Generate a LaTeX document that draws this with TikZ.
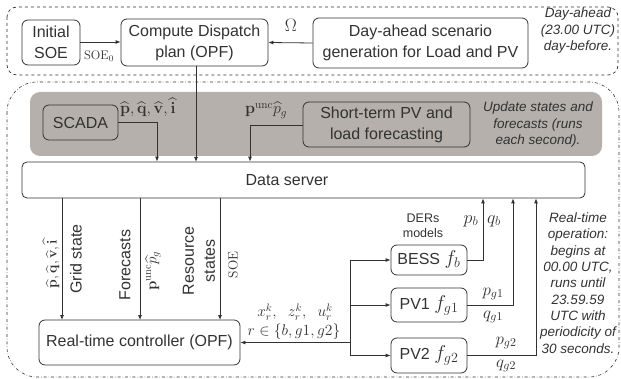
\RequirePackage{fix-cm}
\documentclass[tikz,border=0pt]{standalone}
\usepackage[no-math]{fontspec}
\setmainfont{Liberation Sans}
\usepackage{amsmath,amssymb}
\usetikzlibrary{arrows.meta,positioning}
\definecolor{ink}{RGB}{50,50,50}
\definecolor{bandgray}{RGB}{181,176,171}
\newcommand{\dermath}[1]{{\fontsize{20}{22}\selectfont$#1$}}
\tikzset{
  box/.style={draw=ink, line width=0.8pt, rounded corners=6pt, align=center, inner sep=0pt, text=ink, font=\fontsize{16}{21}\selectfont},
  note/.style={align=center, text=ink, font=\fontsize{13.5}{16.5}\selectfont\itshape, inner sep=0pt},
  lbl/.style={text=ink, inner sep=0pt, font=\fontsize{16}{18}\selectfont},
  rlbl/.style={text=ink, inner sep=0pt, rotate=90, font=\fontsize{16}{21}\selectfont, align=center},
  conn/.style={draw=ink, line width=0.8pt},
  arr/.style={conn, -{Latex[length=5pt,width=4pt]}},
}
\begin{document}
\begin{tikzpicture}[x=1pt,y=-1pt]
\useasboundingbox (0,0) rectangle (621,379);
% frames
\draw[ink, dashed, line width=0.7pt, rounded corners=10pt] (7,7) rectangle (618,75);
\draw[ink, dash dot, line width=0.6pt, rounded corners=30pt] (7,82) rectangle (619,377);
\fill[bandgray, rounded corners=10pt] (30,92) rectangle (602,156);
% top row
\node[box, minimum width=58pt, minimum height=45pt] (soe) at (51,42.5) {Initial\\SOE};
\node[box, minimum width=147pt, minimum height=47pt] (cdp) at (194.5,42.5) {Compute Dispatch\\plan (OPF)};
\node[box, minimum width=215pt, minimum height=50pt] (dah) at (420.5,43) {Day-ahead scenario\\generation for Load and PV};
\node[note] (dahnote) at (578,31) {Day-ahead\\(23.00 UTC)\\day-before.};
\draw[arr] (dah.west) -- (cdp.east);
\node[lbl, font=\fontsize{18}{20}\selectfont] (omega) at (291,25) {$\Omega$};
\draw[arr] (soe.east |- 0,42) -- (cdp.west |- 0,42);
\node[lbl, font=\fontsize{12.5}{14}\selectfont] (soe0) at (99,56) {$\mathrm{SOE}_0$};
% gray band
\node[box, minimum width=75pt, minimum height=35pt] (scada) at (80.5,122.5) {SCADA};
\node[box, minimum width=167pt, minimum height=45pt] (stf) at (386.5,124.5) {Short-term PV and\\load forecasting};
\node[note] (stfnote) at (538,125) {Update states and\\forecasts (runs\\each second).};
% data server
\node[draw=ink, line width=0.8pt, rounded corners=5pt, minimum width=563pt, minimum height=36pt, inner sep=0pt] (ds) at (303.5,180) {};
\node[lbl, font=\fontsize{16}{18}\selectfont] (dslabel) at (287,180) {Data server};
\coordinate (sc1) at (157,122);
\coordinate (st1) at (250,125);
\draw[arr] (scada.east |- sc1) -- (sc1) -- (sc1 |- ds.north);
\node[lbl, anchor=base west] (scadalbl) at (120,114) {$\widehat{\mathbf{p}},\widehat{\mathbf{q}},\widehat{\mathbf{v}},\widehat{\mathbf{i}}$};
\draw[arr] (cdp.south -| 196,0) -- (196,162);
\draw[arr] (stf.west |- st1) -- (st1) -- (st1 |- ds.north);
\node[lbl, anchor=base west] (stflbl) at (245,114) {$\mathbf{p}^{\mathrm{unc}}\widehat{p}_g$};
% real-time controller
\node[box, minimum width=201pt, minimum height=45pt] (rtc) at (139.5,342.5) {Real-time controller (OPF)};
\draw[arr] (62,198) -- (62,320);
\draw[arr] (140,198) -- (140,320);
\draw[arr] (220,198) -- (220,320);
\node[rlbl, font=\fontsize{14}{16}\selectfont] (gsv) at (51,264) {$\widehat{\mathbf{p}},\widehat{\mathbf{q}},\widehat{\mathbf{v}},\widehat{\mathbf{i}}$};
\node[rlbl] (gs) at (76,259) {Grid state};
\node[rlbl] (fc) at (125,265) {Forecasts};
\node[rlbl, font=\fontsize{15}{16}\selectfont] (fcv) at (153,271) {$\mathbf{p}^{\mathrm{unc}}\widehat{p}_g$};
\node[rlbl] (rs) at (199,261) {Resource\\states};
\node[rlbl, font=\fontsize{13.5}{14}\selectfont] (rsv) at (233,265) {$\mathrm{SOE}$};
% DERs
\node[box, minimum width=76pt, minimum height=30pt] (bess) at (429,260) {BESS \dermath{f_b}};
\node[box, minimum width=76pt, minimum height=34pt] (pv1) at (429,305) {PV1 \dermath{f_{g1}}};
\node[box, minimum width=76pt, minimum height=35pt] (pv2) at (429,355.5) {PV2 \dermath{f_{g2}}};
\node[lbl, align=center, font=\fontsize{12.5}{15}\selectfont] (ders) at (423,226) {DERs\\models};
\coordinate (jt) at (350,260);
\coordinate (jm) at (350,305);
\coordinate (jc) at (350,342.5);
\coordinate (jb) at (350,355.5);
\draw[conn] (jt) -- (jb);
\draw[arr] (jt) -- (bess.west);
\draw[arr] (jm) -- (pv1.west);
\draw[arr] (jb) -- (pv2.west);
\draw[arr] (jc) -- (rtc.east);
\node[lbl, font=\fontsize{15.5}{18}\selectfont] (xzu) at (295,312) {$x_r^k,\;\; z_r^k,\;\; u_r^k$};
\node[lbl, font=\fontsize{15.5}{18}\selectfont] (rset) at (294,332) {$r\in\{b,g1,g2\}$};
\coordinate (ob) at (483,260);
\coordinate (o1) at (513,305);
\coordinate (o2) at (536,355.5);
\draw[arr] (bess.east) -- (ob) -- (ob |- ds.south);
\draw[arr] (pv1.east) -- (o1) -- (o1 |- ds.south);
\draw[arr] (pv2.east) -- (o2) -- (o2 |- ds.south);
\node[lbl, font=\fontsize{18}{20}\selectfont] (pb) at (471,221) {$p_b$};
\node[lbl, font=\fontsize{18}{20}\selectfont] (qb) at (494,221) {$q_b$};
\node[lbl, font=\fontsize{17}{20}\selectfont] (pg1) at (493,294) {$p_{g1}$};
\node[lbl, font=\fontsize{17}{20}\selectfont] (qg1) at (493,317) {$q_{g1}$};
\node[lbl, font=\fontsize{17}{20}\selectfont] (pg2) at (506,343) {$p_{g2}$};
\node[lbl, font=\fontsize{17}{20}\selectfont] (qg2) at (506,366) {$q_{g2}$};
\node[note, font=\fontsize{13.5}{16.3}\selectfont\itshape] (rtnote) at (578,283) {Real-time\\operation:\\begins at\\00.00 UTC,\\runs until\\23.59.59\\UTC with\\periodicity of\\30 seconds.};
\end{tikzpicture}
\end{document}
